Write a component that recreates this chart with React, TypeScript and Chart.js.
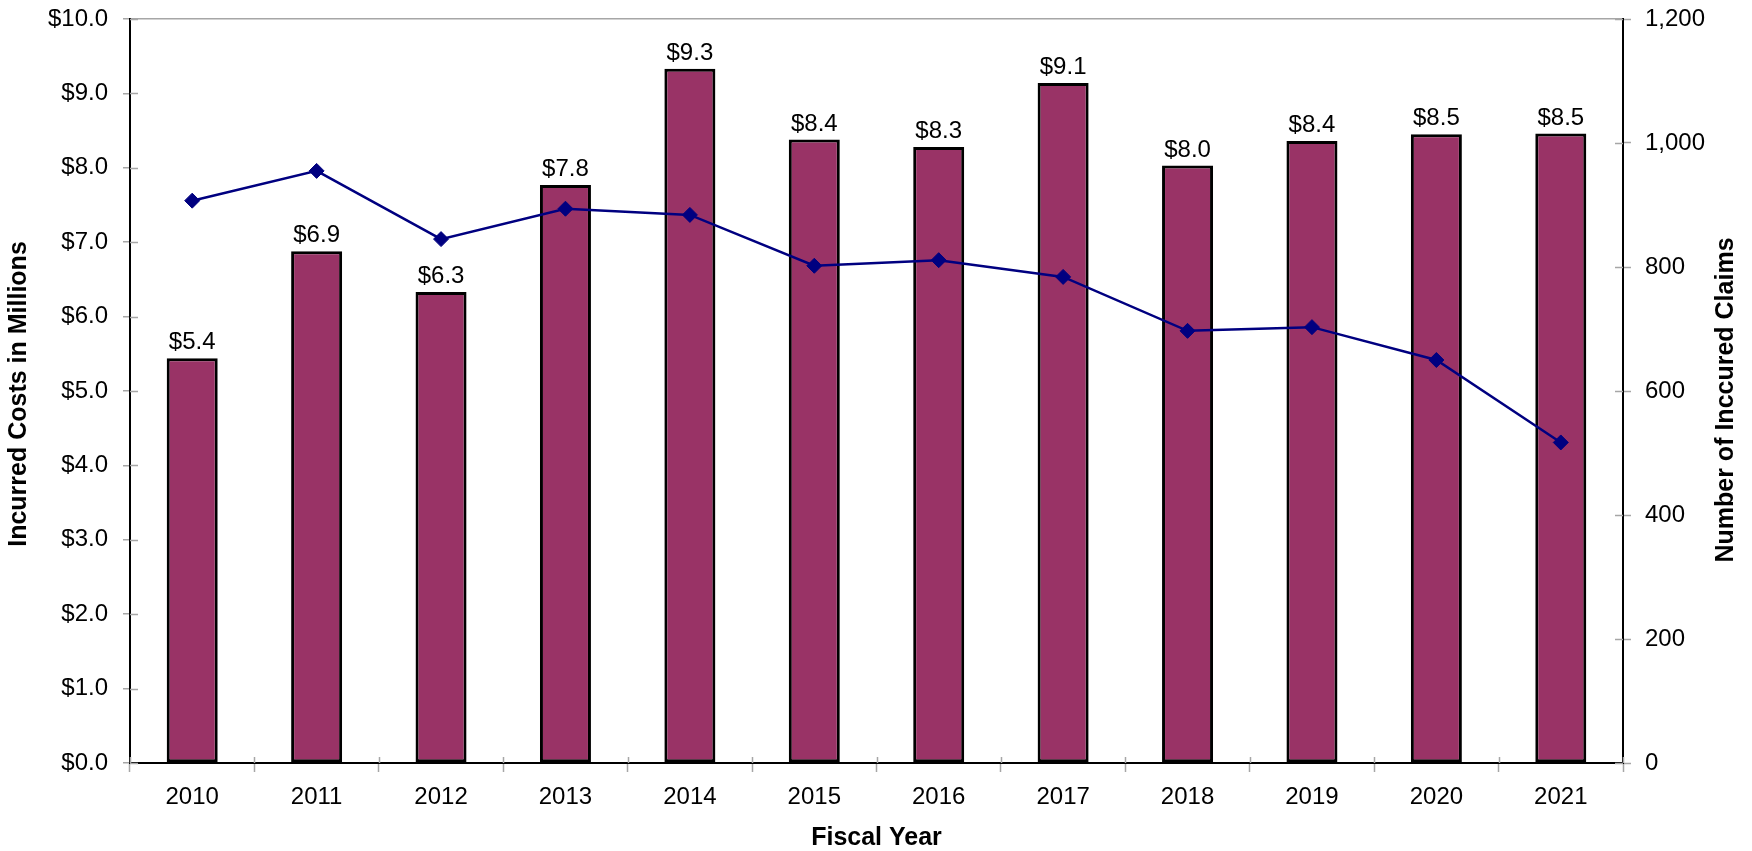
import React, { useEffect, useRef } from "react";
import { Chart, registerables } from "chart.js";

Chart.register(...registerables);

const fiscalYears = ["2010", "2011", "2012", "2013", "2014", "2015", "2016", "2017", "2018", "2019", "2020", "2021"];
const incurredCosts = [5.44, 6.88, 6.33, 7.77, 9.33, 8.38, 8.28, 9.14, 8.03, 8.36, 8.45, 8.46];
const costLabels = ["$5.4", "$6.9", "$6.3", "$7.8", "$9.3", "$8.4", "$8.3", "$9.1", "$8.0", "$8.4", "$8.5", "$8.5"];
const incurredClaims = [907, 955, 845, 894, 884, 802, 811, 784, 697, 703, 650, 517];

const leftTitle = "Incurred Costs in Millions";
const rightTitle = "Number of Inccured Claims";
const bottomTitle = "Fiscal Year";

const FONT = "'Liberation Sans', Arial, Helvetica, sans-serif";
const TICK_GRAY = "#a6a6a6";

const decorPlugin = {
  id: "decor",
  afterDatasetsDraw(chart: any) {
    const ctx = chart.ctx;
    const meta = chart.getDatasetMeta(0);
    ctx.save();
    ctx.fillStyle = "#000";
    ctx.font = `24px ${FONT}`;
    ctx.textAlign = "center";
    ctx.textBaseline = "alphabetic";
    meta.data.forEach((bar: any, i: number) => {
      ctx.fillText(costLabels[i], bar.x, bar.y - 9);
    });
    ctx.restore();
  },
  afterDraw(chart: any) {
    const ctx = chart.ctx;
    const area = chart.chartArea;
    const y = chart.scales.y;
    const y1 = chart.scales.y1;
    const x = chart.scales.x;
    ctx.save();
    ctx.strokeStyle = TICK_GRAY;
    ctx.lineWidth = 1.5;
    ctx.beginPath();
    y.ticks.forEach((t: any) => {
      const py = Math.round(y.getPixelForValue(t.value)) + 0.5;
      ctx.moveTo(area.left, py);
      ctx.lineTo(area.left + 8, py);
    });
    y1.ticks.forEach((t: any) => {
      const py = Math.round(y1.getPixelForValue(t.value)) + 0.5;
      ctx.moveTo(area.right - 8, py);
      ctx.lineTo(area.right, py);
    });
    const n = fiscalYears.length;
    for (let i = 0; i <= n; i++) {
      const px = Math.round(x.left + (i * (x.right - x.left)) / n) + 0.5;
      ctx.moveTo(px, area.bottom - 6);
      ctx.lineTo(px, area.bottom);
    }
    ctx.stroke();

    ctx.fillStyle = "#000";
    ctx.font = `bold 25px ${FONT}`;
    ctx.textAlign = "center";
    ctx.textBaseline = "middle";
    const midY = (area.top + area.bottom) / 2;
    ctx.save();
    ctx.translate(19, midY + 3);
    ctx.rotate(-Math.PI / 2);
    ctx.fillText(leftTitle, 0, 0);
    ctx.restore();
    ctx.save();
    ctx.translate(1726, midY + 9);
    ctx.rotate(-Math.PI / 2);
    ctx.fillText(rightTitle, 0, 0);
    ctx.restore();
    ctx.fillText(bottomTitle, (area.left + area.right) / 2, 838);
    ctx.restore();
  },
};

export default function App() {
  const canvasRef = useRef<HTMLCanvasElement | null>(null);

  useEffect(() => {
    const canvas = canvasRef.current;
    if (!canvas) return;
    const chart = new Chart(canvas, {
      type: "bar",
      data: {
        labels: fiscalYears,
        datasets: [
          {
            type: "bar",
            label: "Incurred Costs",
            data: incurredCosts,
            backgroundColor: "#993366",
            borderColor: "#000000",
            borderWidth: 3,
            borderSkipped: false,
            barPercentage: 0.41,
            categoryPercentage: 1,
            yAxisID: "y",
            order: 2,
          } as any,
          {
            type: "line",
            label: "Incurred Claims",
            data: incurredClaims,
            borderColor: "#000080",
            backgroundColor: "#000080",
            borderWidth: 2.5,
            pointStyle: "rectRot",
            pointRadius: 7.5,
            pointBorderWidth: 1,
            pointBackgroundColor: "#000080",
            pointBorderColor: "#000080",
            tension: 0,
            yAxisID: "y1",
            order: 1,
          } as any,
        ],
      },
      options: {
        responsive: false,
        animation: false,
        layout: { padding: { top: 19, left: 0, right: 0, bottom: 0 } },
        plugins: {
          legend: { display: false },
          tooltip: { enabled: false },
        },
        scales: {
          x: {
            grid: {
              offset: true,
              drawOnChartArea: false,
              tickLength: 9,
              tickColor: TICK_GRAY,
              tickWidth: 1.5,
            },
            border: { color: "#000", width: 2 },
            ticks: { color: "#000", font: { family: FONT, size: 24 }, padding: 11 },
            afterFit: (s: any) => {
              s.height = 88;
              s.paddingLeft = 0;
              s.paddingRight = 0;
            },
          },
          y: {
            position: "left",
            min: 0,
            max: 10,
            ticks: {
              stepSize: 1,
              color: "#000",
              font: { family: FONT, size: 24 },
              padding: 15,
              callback: (v: any) => "$" + Number(v).toFixed(1),
            },
            grid: {
              color: (c: any) => (c.tick && c.tick.value === 10 ? TICK_GRAY : "rgba(0,0,0,0)"),
              tickColor: TICK_GRAY,
              tickLength: 7,
              tickWidth: 1.5,
              lineWidth: 1.5,
            },
            border: { color: "#000", width: 2 },
            afterFit: (s: any) => {
              s.width = 130;
              s.paddingTop = 0;
              s.paddingBottom = 0;
            },
          },
          y1: {
            position: "right",
            min: 0,
            max: 1200,
            ticks: {
              stepSize: 200,
              color: "#000",
              font: { family: FONT, size: 24 },
              padding: 14,
              callback: (v: any) => Number(v).toLocaleString("en-US"),
            },
            grid: {
              drawOnChartArea: false,
              tickColor: TICK_GRAY,
              tickLength: 8,
              tickWidth: 1.5,
            },
            border: { color: "#000", width: 2 },
            afterFit: (s: any) => {
              s.width = 129;
              s.paddingTop = 0;
              s.paddingBottom = 0;
            },
          },
        },
      } as any,
      plugins: [decorPlugin],
    });
    return () => chart.destroy();
  }, []);

  return (
    <div style={{ position: "absolute", left: 0, top: 0, width: 1752, height: 851, background: "#fff" }}>
      <canvas ref={canvasRef} width={1752} height={851} style={{ display: "block", width: 1752, height: 851 }} />
    </div>
  );
}
